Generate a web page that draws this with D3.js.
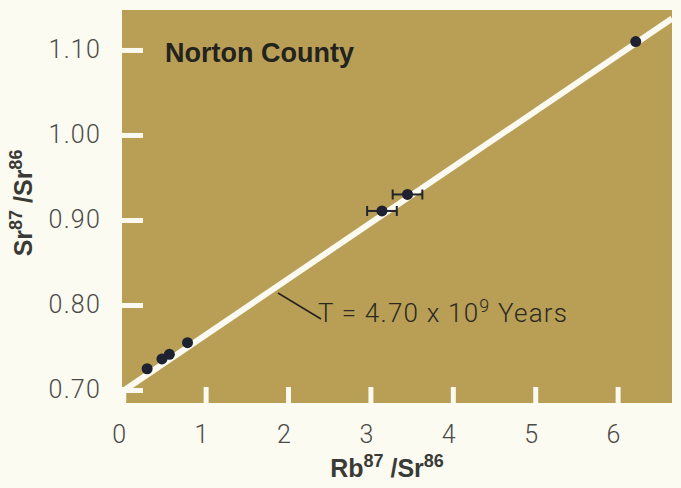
<!DOCTYPE html>
<html>
<head>
<meta charset="utf-8">
<script src="https://cdn.jsdelivr.net/npm/d3@7"></script>
<style>
  body { margin: 0; background: #fcfbf1; }
  .tick text { font-family: Roboto, "Open Sans", sans-serif; font-weight: 300; fill: #4a4a48; letter-spacing: 1.2px; }
</style>
</head>
<body>
<div id="dataviz"></div>
<script>
// data
const rbSr = [0.29, 0.47, 0.56, 0.78, 3.14, 3.45, 6.22];
const srSr = [0.725, 0.7365, 0.742, 0.7556, 0.9106, 0.930, 1.1098];
const xErr = [0, 0, 0, 0, 0.18, 0.18, 0];
const isoX = [-0.015, 6.66];
const isoY = [0.698, 1.137];
const xTicks = [0, 1, 2, 3, 4, 5, 6];
const yTicks = [0.70, 0.80, 0.90, 1.00, 1.10];

const margin = {top: 10, right: 9, bottom: 85, left: 122},
    width = 681 - margin.left - margin.right,
    height = 488 - margin.top - margin.bottom;

let svg = d3.select("#dataviz")
            .append("svg")
            .attr("width", width + margin.left + margin.right)
            .attr("height", height + margin.top + margin.bottom)
        .append("g")
            .attr("transform", `translate(${margin.left}, ${margin.top})`);

const xScale = d3.scaleLinear()
  .domain([-0.015, 6.66])
  .range([0, width]);

const yScale = d3.scaleLinear()
  .domain([0.6847, 1.147])
  .range([height, 0]);

// gold plot area
svg.append("rect")
  .attr("width", width)
  .attr("height", height)
  .attr("fill", "#b99e56");

svg.append("clipPath").attr("id", "clip")
  .append("rect").attr("width", width).attr("height", height);

// axes, white ticks pointing inward
const yAxis = svg.append("g")
  .call(d3.axisLeft(yScale).tickValues(yTicks).tickFormat(d3.format(".2f")).tickSize(-21).tickPadding(21));
const xAxis = svg.append("g")
  .attr("transform", `translate(0, ${height})`)
  .call(d3.axisBottom(xScale).tickValues(xTicks).tickFormat(d3.format("d")).tickSize(-16).tickPadding(22));

[xAxis, yAxis].forEach(a => {
  a.select(".domain").remove();
  a.selectAll(".tick line").attr("stroke", "#fbfaf0").attr("stroke-width", 5);
  a.selectAll(".tick text").style("font-size", "25px");
});
xAxis.selectAll(".tick text").attr("dx", -4);

// isochron
svg.append("line")
  .attr("clip-path", "url(#clip)")
  .attr("x1", xScale(isoX[0])).attr("y1", yScale(isoY[0]))
  .attr("x2", xScale(isoX[1])).attr("y2", yScale(isoY[1]))
  .attr("stroke", "#fbfaf0")
  .attr("stroke-width", 6);

// error bars
const pts = rbSr.map((d, i) => ({x: d, y: srSr[i], e: xErr[i]}));
const eb = svg.selectAll(".err").data(pts.filter(d => d.e > 0)).join("g")
  .attr("stroke", "#22242c").attr("stroke-width", 2);
eb.append("line")
  .attr("x1", d => xScale(d.x - d.e)).attr("x2", d => xScale(d.x + d.e))
  .attr("y1", d => yScale(d.y)).attr("y2", d => yScale(d.y));
eb.append("line")
  .attr("x1", d => xScale(d.x - d.e)).attr("x2", d => xScale(d.x - d.e))
  .attr("y1", d => yScale(d.y) - 5).attr("y2", d => yScale(d.y) + 5);
eb.append("line")
  .attr("x1", d => xScale(d.x + d.e)).attr("x2", d => xScale(d.x + d.e))
  .attr("y1", d => yScale(d.y) - 5).attr("y2", d => yScale(d.y) + 5);

svg.selectAll(".dot").data(pts).join("circle")
  .attr("cx", d => xScale(d.x))
  .attr("cy", d => yScale(d.y))
  .attr("r", 5.5)
  .attr("fill", "#1e2130");

// title
svg.append("text")
  .attr("x", 43).attr("y", 52)
  .attr("font-family", "Liberation Sans, Arial, sans-serif")
  .attr("font-weight", "bold")
  .attr("font-size", 27)
  .attr("fill", "#23231d")
  .text("Norton County");

// age label with leader line
svg.append("line")
  .attr("x1", 156).attr("y1", 283).attr("x2", 199).attr("y2", 309)
  .attr("stroke", "#23231d").attr("stroke-width", 1.5);
const age = svg.append("text")
  .attr("x", 196).attr("y", 312)
  .attr("font-family", "Roboto, 'Open Sans', sans-serif")
  .attr("font-weight", 300)
  .attr("font-size", 26)
  .attr("letter-spacing", 1.2)
  .attr("fill", "#2b2a22");
age.append("tspan").text("T = 4.70 x 10");
age.append("tspan").attr("dy", -10).attr("font-size", 18).text("9");
age.append("tspan").attr("dy", 10).text(" Years");

// axis titles
const xt = svg.append("text")
  .attr("x", width / 2 - 10).attr("y", height + 74)
  .attr("text-anchor", "middle")
  .attr("font-family", "Liberation Sans, Arial, sans-serif")
  .attr("font-weight", "bold").attr("font-size", 25).attr("fill", "#3a3a36");
xt.append("tspan").text("Rb");
xt.append("tspan").attr("dy", -10).attr("font-size", 18).text("87");
xt.append("tspan").attr("dy", 10).text(" /Sr");
xt.append("tspan").attr("dy", -10).attr("font-size", 18).text("86");

const yt = svg.append("text")
  .attr("transform", `translate(${-90}, ${yScale(0.92)}) rotate(-90)`)
  .attr("text-anchor", "middle")
  .attr("font-family", "Liberation Sans, Arial, sans-serif")
  .attr("font-weight", "bold").attr("font-size", 25).attr("fill", "#3a3a36");
yt.append("tspan").text("Sr");
yt.append("tspan").attr("dy", -10).attr("font-size", 18).text("87");
yt.append("tspan").attr("dy", 10).text(" /Sr");
yt.append("tspan").attr("dy", -10).attr("font-size", 18).text("86");
</script>
</body>
</html>
